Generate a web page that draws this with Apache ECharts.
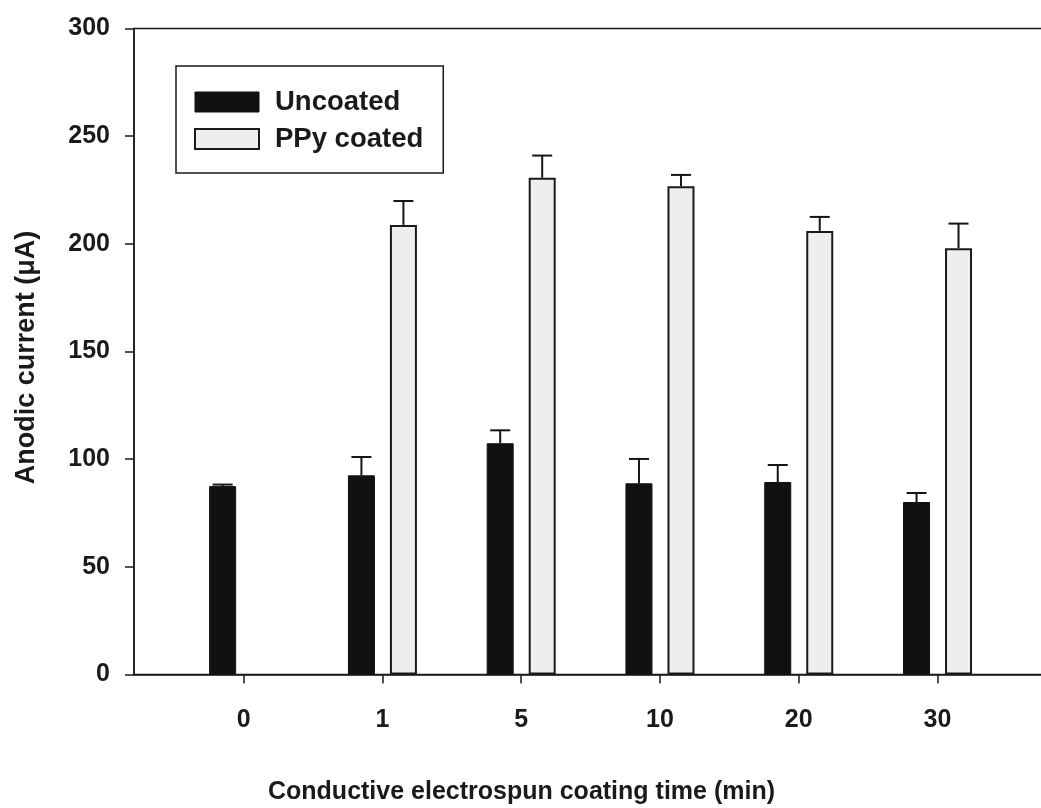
<!DOCTYPE html>
<html>
<head>
<meta charset="utf-8">
<script src="https://cdn.jsdelivr.net/npm/echarts@6/dist/echarts.min.js"></script>
<style>html,body{margin:0;padding:0;background:#fff}#c{width:1041px;height:808px}</style>
</head>
<body>
<div id="c"></div>
<script>
const categories = ['0', '1', '5', '10', '20', '30'];
const uncoated = [87.5, 92.5, 107.4, 88.8, 89.4, 80.1];
const uncoatedErr = [0.7, 8.5, 6.0, 11.3, 7.9, 4.2];
const coated = [null, 208.8, 230.7, 226.7, 206.0, 198.0];
const coatedErr = [null, 11.1, 10.3, 5.3, 6.5, 11.4];
const yTicks = [0, 50, 100, 150, 200, 250, 300];

const FONT = 'Liberation Sans, Arial, sans-serif';
const BAR_W = 27, BAR_GAP = 15;
const OFF = (BAR_W + BAR_GAP) / 2;

function errSeries(vals, errs, side) {
  return {
    type: 'custom',
    z: 5,
    silent: true,
    data: vals.map((v, i) => v == null ? null : [i, v, errs[i]]).filter(d => d),
    encode: { x: 0, y: 1 },
    renderItem: function (params, api) {
      const x = api.value(0), v = api.value(1), e = api.value(2);
      const p0 = api.coord([x, v]);
      const p1 = api.coord([x, v + e]);
      const cx = p0[0] + side * OFF;
      const st = { stroke: '#151515', lineWidth: 2 };
      return {
        type: 'group',
        children: [
          { type: 'line', shape: { x1: cx, y1: p0[1], x2: cx, y2: p1[1] }, style: st },
          { type: 'line', shape: { x1: cx - 10, y1: p1[1], x2: cx + 10, y2: p1[1] }, style: st }
        ]
      };
    }
  };
}

const chart = echarts.init(document.getElementById('c'), null, { renderer: 'canvas' });
chart.setOption({
  backgroundColor: '#ffffff',
  animation: false,
  textStyle: { fontFamily: FONT },
  grid: {
    left: 134, right: -2, top: 28.5, bottom: 133.5,
    show: true, borderColor: '#1a1a1a', borderWidth: 1.5,
    outerBoundsMode: 'none'
  },
  legend: {
    left: 176, top: 66, orient: 'vertical',
    icon: 'rect', itemWidth: 64, itemHeight: 20, itemGap: 9,
    padding: [22, 20, 20, 18],
    borderColor: '#1a1a1a', borderWidth: 1.5,
    textStyle: { fontFamily: FONT, fontSize: 27.5, fontWeight: 'bold', color: '#1a1a1a', lineHeight: 26, padding: [0, 0, 0, 11] },
    data: [
      { name: 'Uncoated', itemStyle: { color: '#111111', borderColor: '#111111', borderWidth: 1 } },
      { name: 'PPy coated', itemStyle: { color: '#eeeeee', borderColor: '#1a1a1a', borderWidth: 2 } }
    ]
  },
  xAxis: {
    type: 'value',
    min: -0.79, max: 5.76,
    name: 'Conductive electrospun coating time (min)',
    nameLocation: 'middle', nameGap: 105,
    nameTextStyle: { fontFamily: FONT, fontSize: 25, fontWeight: 'bold', color: '#1a1a1a', padding: [0, 134, 0, 0] },
    axisLine: { show: true, onZero: false, lineStyle: { color: '#1a1a1a', width: 1.5 } },
    axisTick: { show: true, length: 9, inside: false, customValues: categories.map((c, i) => i), lineStyle: { color: '#1a1a1a', width: 1.5 } },
    axisLabel: {
      customValues: categories.map((c, i) => i),
      formatter: v => categories[Math.round(v)],
      margin: 33, fontFamily: FONT, fontSize: 25, fontWeight: 'bold', color: '#1a1a1a'
    },
    splitLine: { show: false }
  },
  yAxis: {
    type: 'value',
    min: 0, max: 300, interval: 50,
    name: 'Anodic current (μA)',
    nameLocation: 'middle', nameGap: 94,
    nameTextStyle: { fontFamily: FONT, fontSize: 27, fontWeight: 'bold', color: '#1a1a1a', padding: [0, 12, 0, 0] },
    axisLine: { show: true, onZero: false, lineStyle: { color: '#1a1a1a', width: 1.5 } },
    axisTick: { show: true, length: 9, inside: false, lineStyle: { color: '#1a1a1a', width: 1.5 } },
    axisLabel: {
      formatter: v => yTicks.indexOf(v) >= 0 ? String(v) : '',
      margin: 24, fontFamily: FONT, fontSize: 25, fontWeight: 'bold', color: '#1a1a1a'
    },
    splitLine: { show: false }
  },
  series: [
    {
      name: 'Uncoated', type: 'bar',
      barWidth: BAR_W, barGap: (BAR_GAP / BAR_W * 100).toFixed(1) + '%',
      itemStyle: { color: '#111111', borderColor: '#111111', borderWidth: 1 },
      data: uncoated.map((v, i) => [i, v])
    },
    {
      name: 'PPy coated', type: 'bar',
      barWidth: BAR_W,
      itemStyle: { color: '#eeeeee', borderColor: '#1a1a1a', borderWidth: 2 },
      data: coated.map((v, i) => [i, v])
    },
    errSeries(uncoated, uncoatedErr, -1),
    errSeries(coated, coatedErr, 1)
  ]
});
</script>
</body>
</html>
